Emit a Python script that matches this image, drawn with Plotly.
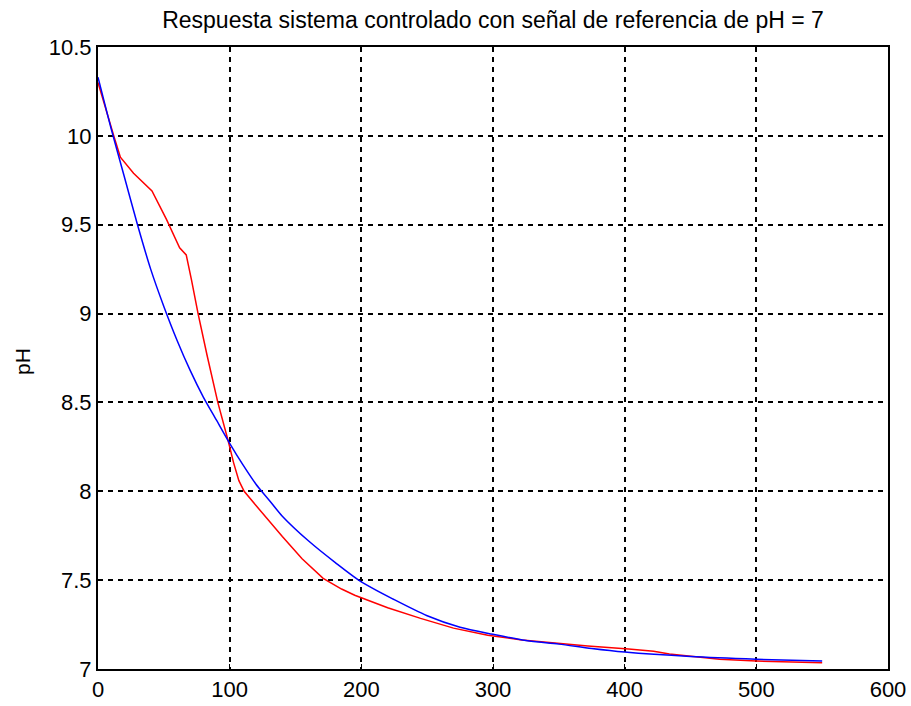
import plotly.graph_objects as go

# Blue curve
t_blue = [0, 10, 20, 30, 40, 50, 60, 70, 80, 90, 100, 110, 120, 130, 140, 160, 180, 200,
          225, 250, 275, 300, 325, 350, 375, 400, 450, 500, 550]
ph_blue = [10.33, 10.04, 9.77, 9.50, 9.25, 9.04, 8.85, 8.68, 8.53, 8.40, 8.27, 8.15, 8.04,
           7.95, 7.86, 7.72, 7.60, 7.49, 7.39, 7.30, 7.235, 7.195, 7.16, 7.14, 7.115, 7.095,
           7.07, 7.055, 7.045]

# Red curve
t_red = [0, 5, 12, 17, 27, 41, 52, 62, 67, 71, 76, 83, 91, 99, 103, 107, 111, 120, 130,
         140, 155, 171, 185, 195, 220, 245, 270, 296, 322, 347, 372, 403, 422, 434, 472,
         500, 550]
ph_red = [10.30, 10.17, 10.00, 9.88, 9.79, 9.69, 9.53, 9.37, 9.33, 9.19, 9.00, 8.76, 8.50,
          8.28, 8.16, 8.06, 8.00, 7.92, 7.83, 7.745, 7.62, 7.51, 7.45, 7.415, 7.345, 7.285,
          7.23, 7.19, 7.163, 7.145, 7.129, 7.113, 7.10, 7.085, 7.055, 7.045, 7.035]

x_ticks = [0, 100, 200, 300, 400, 500, 600]
y_ticks = [7, 7.5, 8, 8.5, 9, 9.5, 10, 10.5]
y_tick_text = ["7", "7.5", "8", "8.5", "9", "9.5", "10", "10.5"]

title_text = "Respuesta sistema controlado con señal de referencia de pH = 7"
ylabel_text = "pH"

FONT = "Liberation Sans, Arial, sans-serif"

fig = go.Figure()
fig.add_trace(go.Scatter(x=t_red, y=ph_red, mode="lines",
                         line=dict(color="#ff0000", width=1.5), showlegend=False))
fig.add_trace(go.Scatter(x=t_blue, y=ph_blue, mode="lines",
                         line=dict(color="#0000ff", width=1.5, shape="spline",
                                   smoothing=0.8), showlegend=False))

axis_common = dict(
    showgrid=True, gridcolor="black", gridwidth=1.5, griddash="5px,5px",
    showline=True, linecolor="black", linewidth=2, mirror=True,
    ticks="inside", ticklen=5, tickcolor="black",
    zeroline=False, automargin=False,
    tickfont=dict(family=FONT, size=22, color="black"),
)

fig.update_xaxes(range=[0, 600], tickvals=x_ticks, ticktext=[str(v) for v in x_ticks],
                 **axis_common)
fig.update_yaxes(range=[7, 10.5], tickvals=y_ticks, ticktext=y_tick_text, **axis_common)

fig.update_layout(
    width=911, height=706,
    margin=dict(l=98, r=23, t=47, b=37),
    paper_bgcolor="white", plot_bgcolor="white",
    title=dict(text=title_text, x=0.5, xref="paper", y=1 - 20 / 706, yref="container",
               xanchor="center", yanchor="middle",
               font=dict(family=FONT, size=23, color="black")),
    annotations=[dict(text=ylabel_text, textangle=-90, xref="paper", yref="paper",
                      x=(23 - 98) / 790, y=0.5 - (362 - 358) / 622, xanchor="center",
                      yanchor="middle", showarrow=False,
                      font=dict(family=FONT, size=21, color="black"))],
)

fig.write_html("out.html")
